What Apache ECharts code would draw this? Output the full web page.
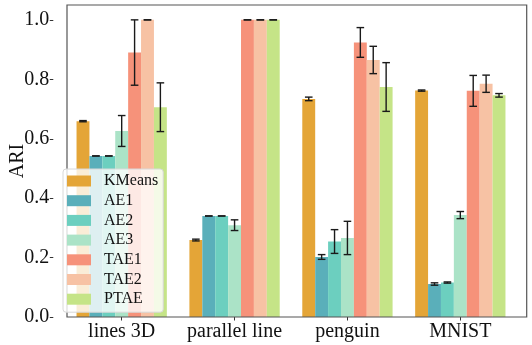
<!DOCTYPE html>
<html>
<head>
<meta charset="utf-8">
<script src="https://cdn.jsdelivr.net/npm/echarts@6/dist/echarts.min.js"></script>
<style>
  html, body { margin: 0; padding: 0; background: #fff; }
  #main { width: 532px; height: 345px; }
</style>
</head>
<body>
<div id="main"></div>
<script>
// categories and methods
const categories = ['lines 3D', 'parallel line', 'penguin', 'MNIST'];
const methods = ['KMeans', 'AE1', 'AE2', 'AE3', 'TAE1', 'TAE2', 'PTAE'];
const yTicks = [0, 0.2, 0.4, 0.6, 0.8, 1.0];

// mean ARI per category
const kmeans = [0.659, 0.259, 0.734, 0.762];
const ae1 = [0.542, 0.340, 0.202, 0.111];
const ae2 = [0.542, 0.340, 0.254, 0.116];
const ae3 = [0.626, 0.309, 0.266, 0.343];
const tae1 = [0.890, 1.0, 0.924, 0.761];
const tae2 = [1.0, 1.0, 0.865, 0.785];
const ptae = [0.706, 1.0, 0.774, 0.746];

// error (std) per category
const kmeansErr = [0.002, 0.003, 0.006, 0.002];
const ae1Err = [0, 0, 0.008, 0.004];
const ae2Err = [0, 0, 0.040, 0.002];
const ae3Err = [0.052, 0.018, 0.056, 0.012];
const tae1Err = [0.110, 0, 0.050, 0.052];
const tae2Err = [0, 0, 0.046, 0.029];
const ptaeErr = [0.082, 0, 0.082, 0.006];

const values = [kmeans, ae1, ae2, ae3, tae1, tae2, ptae];
const errors = [kmeansErr, ae1Err, ae2Err, ae3Err, tae1Err, tae2Err, ptaeErr];
const colors = ['#e4a537', '#5aafba', '#6ccfbf', '#abe3c7', '#f6927a', '#f7c2a4', '#c5e487'];

const FONT = '"Liberation Serif", "Times New Roman", serif';

const chart = echarts.init(document.getElementById('main'));

// error bar drawing, offset inside the group like matplotlib
function errorItem(k) {
  return function (params, api) {
    const cat = api.value(0), v = api.value(1), e = api.value(2);
    const c = api.coord([cat, v]);
    const bw = api.size([1, 0])[0] * 0.8 / methods.length;
    const x = c[0] + (k - (methods.length - 1) / 2) * bw;
    const top = api.coord([cat, v + e])[1];
    const bot = api.coord([cat, v - e])[1];
    const style = { stroke: '#1a1a1a', lineWidth: 1.4 };
    return {
      type: 'group',
      children: [
        { type: 'line', shape: { x1: x, y1: top, x2: x, y2: bot }, style: style },
        { type: 'line', shape: { x1: x - 3.8, y1: top, x2: x + 3.8, y2: top }, style: style },
        { type: 'line', shape: { x1: x - 3.8, y1: bot, x2: x + 3.8, y2: bot }, style: style }
      ]
    };
  };
}

const series = [];
methods.forEach(function (m, k) {
  series.push({
    name: m,
    type: 'bar',
    xAxisIndex: 2,
    yAxisIndex: 2,
    data: values[k],
    barGap: '0%',
    barCategoryGap: '20%',
    itemStyle: { color: colors[k] },
    z: 2
  });
});
methods.forEach(function (m, k) {
  series.push({
    type: 'custom',
    xAxisIndex: 2,
    yAxisIndex: 2,
    data: categories.map(function (c, i) { return [i, values[k][i], errors[k][i]]; }),
    renderItem: errorItem(k),
    z: 3,
    silent: true
  });
});

const option = {
  animation: false,
  backgroundColor: '#fff',
  textStyle: { fontFamily: FONT },
  grid: [
    // frame
    { left: 53.3, right: 5.3, top: 5, bottom: 28, show: true, borderColor: '#555', borderWidth: 1.2, backgroundColor: 'transparent', z: 5 },
    // y tick labels
    { left: 53.3, right: 5.3, top: 20, bottom: 28 },
    // data
    { left: 65.25, width: 451.5, top: 5, bottom: 28 }
  ],
  xAxis: [
    { gridIndex: 0, type: 'value', show: false },
    { gridIndex: 1, type: 'value', show: false },
    {
      gridIndex: 2,
      type: 'category',
      data: categories,
      axisLine: { show: false },
      axisTick: { show: true, alignWithLabel: true, length: 3.5, lineStyle: { color: '#333', width: 1 } },
      axisLabel: { color: '#111', fontSize: 20, fontFamily: FONT, margin: 5, interval: 0 }
    }
  ],
  yAxis: [
    {
      gridIndex: 0, type: 'value', min: 0, max: 1.05,
      axisLine: { show: false }, axisTick: { show: false }, axisLabel: { show: false }, splitLine: { show: false },
      name: 'ARI', nameLocation: 'middle', nameRotate: 90, nameGap: 39,
      nameTextStyle: { color: '#111', fontSize: 20, fontFamily: FONT }
    },
    {
      gridIndex: 1, type: 'value', min: 0, max: 1, interval: 0.2,
      axisLine: { show: false },
      axisTick: { show: true, length: 3.5, lineStyle: { color: '#333', width: 1 } },
      axisLabel: { color: '#111', fontSize: 20, fontFamily: FONT, margin: 4, formatter: function (v) { return v.toFixed(1); } },
      splitLine: { show: false }
    },
    { gridIndex: 2, type: 'value', min: 0, max: 1.05, show: false, splitLine: { show: false } }
  ],
  legend: {
    orient: 'vertical',
    left: 63,
    top: 169,
    data: methods,
    icon: 'rect',
    itemWidth: 24,
    itemHeight: 11,
    itemGap: 3.7,
    padding: [4, 5, 5, 4],
    backgroundColor: 'rgba(255,255,255,0.8)',
    borderColor: '#d8d8d8',
    borderWidth: 1,
    borderRadius: 3,
    textStyle: { color: '#111', fontSize: 16, fontFamily: FONT, lineHeight: 16, padding: [0, 0, 0, 8] },
    z: 10
  },
  series: series
};

chart.setOption(option);
</script>
</body>
</html>
